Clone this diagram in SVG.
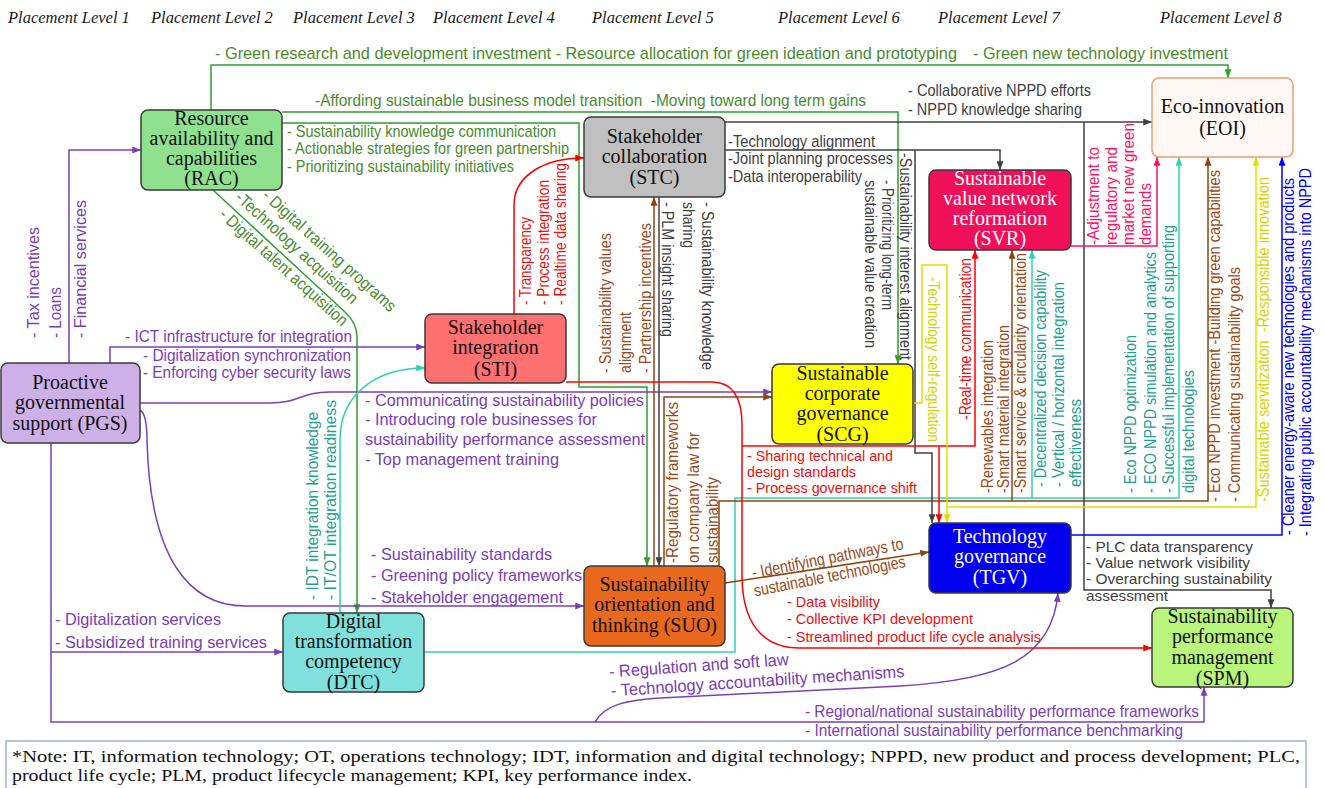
<svg xmlns="http://www.w3.org/2000/svg" width="1325" height="788" viewBox="0 0 1325 788">
<style>
.hd{font-family:"Liberation Serif",serif;font-style:italic;font-size:16.5px;fill:#1a1a1a}
.nt{font-family:"Liberation Serif",serif;font-size:20px;text-anchor:middle;fill:#111}
.nw{fill:#fff}
.nd{stroke:#3a3a3a;stroke-width:1.5}
.lb{font-family:"Liberation Sans",Arial,sans-serif;font-size:17px}
.sm{font-size:15px}
.v{dominant-baseline:central}
.tg{fill:#4A8B2C}.tp{fill:#7A3DB8}.tt{fill:#1FA08F}.tb{fill:#994A1A}.tr{fill:#E81010}.tk{fill:#404040}.ty{fill:#D4D400}.tl{fill:#0000FF}.tn{fill:#FF1060}
.note{font-family:"Liberation Serif",serif;font-size:17px;fill:#111}
</style>
<defs>
<marker id="aG" viewBox="0 0 10 8" refX="10" refY="4" markerWidth="9" markerHeight="7" markerUnits="userSpaceOnUse" orient="auto"><path d="M0,0L10,4L0,8z" fill="#2EA02E"/></marker>
<marker id="aP" viewBox="0 0 10 8" refX="10" refY="4" markerWidth="9" markerHeight="7" markerUnits="userSpaceOnUse" orient="auto"><path d="M0,0L10,4L0,8z" fill="#7B3FB8"/></marker>
<marker id="aT" viewBox="0 0 10 8" refX="10" refY="4" markerWidth="9" markerHeight="7" markerUnits="userSpaceOnUse" orient="auto"><path d="M0,0L10,4L0,8z" fill="#2DD4B0"/></marker>
<marker id="aB" viewBox="0 0 10 8" refX="10" refY="4" markerWidth="9" markerHeight="7" markerUnits="userSpaceOnUse" orient="auto"><path d="M0,0L10,4L0,8z" fill="#8B4513"/></marker>
<marker id="aK" viewBox="0 0 10 8" refX="10" refY="4" markerWidth="9" markerHeight="7" markerUnits="userSpaceOnUse" orient="auto"><path d="M0,0L10,4L0,8z" fill="#404040"/></marker>
<marker id="aR" viewBox="0 0 10 8" refX="10" refY="4" markerWidth="9" markerHeight="7" markerUnits="userSpaceOnUse" orient="auto"><path d="M0,0L10,4L0,8z" fill="#FF0000"/></marker>
<marker id="aY" viewBox="0 0 10 8" refX="10" refY="4" markerWidth="9" markerHeight="7" markerUnits="userSpaceOnUse" orient="auto"><path d="M0,0L10,4L0,8z" fill="#E0E000"/></marker>
<marker id="aL" viewBox="0 0 10 8" refX="10" refY="4" markerWidth="9" markerHeight="7" markerUnits="userSpaceOnUse" orient="auto"><path d="M0,0L10,4L0,8z" fill="#0000FF"/></marker>
<marker id="aN" viewBox="0 0 10 8" refX="10" refY="4" markerWidth="9" markerHeight="7" markerUnits="userSpaceOnUse" orient="auto"><path d="M0,0L10,4L0,8z" fill="#FF1060"/></marker>
</defs>
<rect width="1325" height="788" fill="#fff"/>
<g id="headers" class="hd">
<text x="8" y="23">Placement Level 1</text>
<text x="151" y="23">Placement Level 2</text>
<text x="293" y="23">Placement Level 3</text>
<text x="433" y="23">Placement Level 4</text>
<text x="592" y="23">Placement Level 5</text>
<text x="778" y="23">Placement Level 6</text>
<text x="938" y="23">Placement Level 7</text>
<text x="1160" y="23">Placement Level 8</text>
</g>
<g id="connectors" fill="none" stroke-width="1.5">
<g stroke="#2EA02E" marker-end="url(#aG)">
<path d="M211,110V65H1228V78"/>
<path d="M282,112H898V364"/>
<path d="M282,123H579V387H647V566"/>
<path d="M213,190L345,312Q357,323 357,337V613"/>
</g>
<g stroke="#7B3FB8" marker-end="url(#aP)">
<path d="M69,363V150H141"/>
<path d="M110,363V347H425"/>
<path d="M140,403H270C300,403 300,392 330,392H772"/>
<path d="M140,410Q147,414 147,440C150,560 190,606 245,606H584"/>
<path d="M51,443V722H1204V687"/>
<path d="M51,652H283"/>
<path d="M595,722C605,705 625,700 660,698L900,686C1000,680 1052,660 1058,593"/>
</g>
<g stroke="#2DD4B0" marker-end="url(#aT)">
<path d="M340,613V440C340,395 375,368 425,368"/>
<path d="M424,652H735V498H1179V157"/>
<path d="M1032,498V250"/>
</g>
<g stroke="#8B4513" marker-end="url(#aB)">
<path d="M654,566V197"/>
<path d="M664,566V397H772"/>
<path d="M719,566V501H1208V157"/>
<path d="M1012,501V250"/>
<path d="M725,583L929,552"/>
</g>
<g stroke="#404040" marker-end="url(#aK)">
<path d="M725,122H1152"/>
<path d="M725,150H1000V170"/>
<path d="M915,150V453H932V523"/>
<path d="M1084,122V590H1271V608"/>
<path d="M659,197V566"/>
</g>
<g stroke="#FF0000" marker-end="url(#aR)">
<path d="M514,314V205C514,175 545,158 584,158"/>
<path d="M566,382H712C735,382 742,400 742,425V575C742,620 760,648 800,648H1152"/>
<path d="M742,446H975V250"/>
<path d="M939,446V523"/>
</g>
<path d="M1071,246H1157V157" stroke="#FF1060" marker-end="url(#aN)"/>
<g stroke="#E0E000" marker-end="url(#aY)">
<path d="M913,403H922V265H947V523"/>
<path d="M947,507H1256V157"/>
</g>
<path d="M1071,535H1282V157" stroke="#0000FF" marker-end="url(#aL)"/>
</g>
<g id="RAC"><rect class="nd" x="141" y="110" width="141" height="80" rx="7" fill="#8FE08F"/><text class="nt"><tspan x="211.5" y="125">Resource</tspan><tspan x="211.5" y="145">availability and</tspan><tspan x="211.5" y="165">capabilities</tspan><tspan x="211.5" y="185">(RAC)</tspan></text></g>
<g id="STC"><rect class="nd" x="584" y="117" width="141" height="80" rx="7" fill="#C0C0C0"/><text class="nt"><tspan x="654.5" y="143">Stakeholder</tspan><tspan x="654.5" y="163">collaboration</tspan><tspan x="654.5" y="184">(STC)</tspan></text></g>
<g id="EOI"><rect x="1152" y="78" width="141" height="79" rx="7" fill="#FFF8F4" stroke="#E8A070" stroke-width="1.5"/><text class="nt"><tspan x="1222.5" y="113">Eco-innovation</tspan><tspan x="1222.5" y="135">(EOI)</tspan></text></g>
<g id="SVR"><rect class="nd" x="929" y="170" width="142" height="80" rx="7" fill="#F0105A"/><text class="nt nw"><tspan x="1000" y="185">Sustainable</tspan><tspan x="1000" y="205">value network</tspan><tspan x="1000" y="225">reformation</tspan><tspan x="1000" y="245">(SVR)</tspan></text></g>
<g id="STI"><rect class="nd" x="425" y="314" width="141" height="69" rx="7" fill="#FF7070"/><text class="nt"><tspan x="495.5" y="334">Stakeholder</tspan><tspan x="495.5" y="354">integration</tspan><tspan x="495.5" y="376">(STI)</tspan></text></g>
<g id="PGS"><rect class="nd" x="1" y="363" width="139" height="80" rx="7" fill="#CDB0E8"/><text class="nt"><tspan x="70" y="389">Proactive</tspan><tspan x="70" y="409">governmental</tspan><tspan x="70" y="430">support (PGS)</tspan></text></g>
<g id="SCG"><rect class="nd" x="772" y="364" width="141" height="80" rx="7" fill="#FFFF00"/><text class="nt"><tspan x="842.5" y="380">Sustainable</tspan><tspan x="842.5" y="400">corporate</tspan><tspan x="842.5" y="420">governance</tspan><tspan x="842.5" y="441">(SCG)</tspan></text></g>
<g id="SUO"><rect class="nd" x="584" y="566" width="141" height="80" rx="7" fill="#E8691E"/><text class="nt"><tspan x="654.5" y="591">Sustainability</tspan><tspan x="654.5" y="611">orientation and</tspan><tspan x="654.5" y="632">thinking (SUO)</tspan></text></g>
<g id="DTC"><rect class="nd" x="283" y="613" width="141" height="79" rx="7" fill="#80E0DC"/><text class="nt"><tspan x="353.5" y="628">Digital</tspan><tspan x="353.5" y="648">transformation</tspan><tspan x="353.5" y="668">competency</tspan><tspan x="353.5" y="689">(DTC)</tspan></text></g>
<g id="TGV"><rect class="nd" x="929" y="523" width="142" height="70" rx="7" fill="#0000EE"/><text class="nt nw"><tspan x="1000" y="543">Technology</tspan><tspan x="1000" y="563">governance</tspan><tspan x="1000" y="584">(TGV)</tspan></text></g>
<g id="SPM"><rect class="nd" x="1152" y="608" width="141" height="79" rx="7" fill="#B8F57A"/><text class="nt"><tspan x="1222.5" y="623">Sustainability</tspan><tspan x="1222.5" y="643">performance</tspan><tspan x="1222.5" y="664">management</tspan><tspan x="1222.5" y="685">(SPM)</tspan></text></g>
<g id="labels" class="lb">
<g class="tg">
<text x="215" y="59" textLength="742" lengthAdjust="spacingAndGlyphs">- Green research and development investment - Resource allocation for green ideation and prototyping</text>
<text x="973" y="59" textLength="255" lengthAdjust="spacingAndGlyphs">- Green new technology investment</text>
<text x="315" y="106" textLength="551" lengthAdjust="spacingAndGlyphs">-Affording sustainable business model transition&#160; -Moving toward long term gains</text>
<text x="287" y="137" textLength="269" lengthAdjust="spacingAndGlyphs">- Sustainability knowledge communication</text>
<text x="287" y="154" textLength="282" lengthAdjust="spacingAndGlyphs">- Actionable strategies for green partnership</text>
<text x="287" y="172" textLength="227" lengthAdjust="spacingAndGlyphs">- Prioritizing sustainability initiatives</text>
<text class="v" transform="translate(265,193) rotate(42)" textLength="173" lengthAdjust="spacingAndGlyphs">- Digital training programs</text>
<text class="v" transform="translate(238,195) rotate(42)" textLength="158" lengthAdjust="spacingAndGlyphs">-Technology acquisition</text>
<text class="v" transform="translate(222,212) rotate(42)" textLength="166" lengthAdjust="spacingAndGlyphs">- Digital talent acquisition</text>
</g>
<g class="tk">
<text x="728" y="147" textLength="147" lengthAdjust="spacingAndGlyphs">-Technology alignment</text>
<text x="728" y="164" textLength="165" lengthAdjust="spacingAndGlyphs">-Joint planning processes</text>
<text x="728" y="182" textLength="134" lengthAdjust="spacingAndGlyphs">-Data interoperability</text>
<text x="908" y="96" textLength="183" lengthAdjust="spacingAndGlyphs">- Collaborative NPPD efforts</text>
<text x="908" y="115" textLength="174" lengthAdjust="spacingAndGlyphs">- NPPD knowledge sharing</text>
<text class="sm" x="1086" y="552" textLength="167" lengthAdjust="spacingAndGlyphs">- PLC data transparency</text>
<text class="sm" x="1086" y="568" textLength="164" lengthAdjust="spacingAndGlyphs">- Value network visibility</text>
<text class="sm" x="1086" y="584" textLength="186" lengthAdjust="spacingAndGlyphs">- Overarching sustainability</text>
<text class="sm" x="1086" y="601" textLength="82" lengthAdjust="spacingAndGlyphs">assessment</text>
<text class="v" transform="translate(667,202) rotate(90)" textLength="135" lengthAdjust="spacingAndGlyphs">- PLM insight sharing</text>
<text class="v" transform="translate(707,202) rotate(90)" textLength="168" lengthAdjust="spacingAndGlyphs">- Sustainability knowledge</text>
<text class="v" transform="translate(688,202) rotate(90)" textLength="46" lengthAdjust="spacingAndGlyphs">sharing</text>
<text class="v" transform="translate(905,153) rotate(90)" textLength="207" lengthAdjust="spacingAndGlyphs">-Sustainability interest alignment</text>
<text class="v" transform="translate(887,180) rotate(90)" textLength="130" lengthAdjust="spacingAndGlyphs">- Prioritizing long-term</text>
<text class="v" transform="translate(870,180) rotate(90)" textLength="168" lengthAdjust="spacingAndGlyphs">sustainable value creation</text>
</g>
<g class="tp">
<text class="v" transform="translate(33,338) rotate(-90)" textLength="111" lengthAdjust="spacingAndGlyphs">- Tax incentives</text>
<text class="v" transform="translate(55,338) rotate(-90)" textLength="51" lengthAdjust="spacingAndGlyphs">- Loans</text>
<text class="v" transform="translate(80,338) rotate(-90)" textLength="138" lengthAdjust="spacingAndGlyphs">- Financial services</text>
<text x="125" y="342" textLength="227" lengthAdjust="spacingAndGlyphs">- ICT infrastructure for integration</text>
<text x="143" y="361" textLength="208" lengthAdjust="spacingAndGlyphs">- Digitalization synchronization</text>
<text x="143" y="378" textLength="208" lengthAdjust="spacingAndGlyphs">- Enforcing cyber security laws</text>
<text x="365" y="406" textLength="279" lengthAdjust="spacingAndGlyphs">- Communicating sustainability policies</text>
<text x="365" y="425" textLength="232" lengthAdjust="spacingAndGlyphs">- Introducing role businesses for</text>
<text x="365" y="445" textLength="280" lengthAdjust="spacingAndGlyphs">sustainability performance assessment</text>
<text x="365" y="465" textLength="194" lengthAdjust="spacingAndGlyphs">- Top management training</text>
<text x="371" y="560" textLength="181" lengthAdjust="spacingAndGlyphs">- Sustainability standards</text>
<text x="371" y="581" textLength="211" lengthAdjust="spacingAndGlyphs">- Greening policy frameworks</text>
<text x="371" y="603" textLength="192" lengthAdjust="spacingAndGlyphs">- Stakeholder engagement</text>
<text x="55" y="625" textLength="166" lengthAdjust="spacingAndGlyphs">- Digitalization services</text>
<text x="55" y="648" textLength="212" lengthAdjust="spacingAndGlyphs">- Subsidized training services</text>
<text x="805" y="717" textLength="394" lengthAdjust="spacingAndGlyphs">- Regional/national sustainability performance frameworks</text>
<text x="805" y="736" textLength="378" lengthAdjust="spacingAndGlyphs">- International sustainability performance benchmarking</text>
<text class="v" transform="translate(609,672) rotate(-4)" textLength="180" lengthAdjust="spacingAndGlyphs">- Regulation and soft law</text>
<text class="v" transform="translate(611,691) rotate(-3.8)" textLength="294" lengthAdjust="spacingAndGlyphs">- Technology accountability mechanisms</text>
</g>
<g class="tr">
<text class="v" transform="translate(525,305) rotate(-90)" textLength="88" lengthAdjust="spacingAndGlyphs">- Transparency</text>
<text class="v" transform="translate(543,305) rotate(-90)" textLength="125" lengthAdjust="spacingAndGlyphs">- Process integration</text>
<text class="v" transform="translate(560,305) rotate(-90)" textLength="142" lengthAdjust="spacingAndGlyphs">- Realtime data sharing</text>
<text class="v" transform="translate(965,420) rotate(-90)" textLength="162" lengthAdjust="spacingAndGlyphs">-Real-time communication</text>
<text class="sm" x="747" y="461" textLength="146" lengthAdjust="spacingAndGlyphs">- Sharing technical and</text>
<text class="sm" x="747" y="477" textLength="109" lengthAdjust="spacingAndGlyphs">design standards</text>
<text class="sm" x="747" y="493" textLength="170" lengthAdjust="spacingAndGlyphs">- Process governance shift</text>
<text class="sm" x="787" y="607" textLength="93" lengthAdjust="spacingAndGlyphs">- Data visibility</text>
<text class="sm" x="787" y="624" textLength="186" lengthAdjust="spacingAndGlyphs">- Collective KPI development</text>
<text class="sm" x="787" y="642" textLength="254" lengthAdjust="spacingAndGlyphs">- Streamlined product life cycle analysis</text>
</g>
<g class="tb">
<text class="v" transform="translate(605,373) rotate(-90)" textLength="140" lengthAdjust="spacingAndGlyphs">- Sustainability values</text>
<text class="v" transform="translate(625,373) rotate(-90)" textLength="61" lengthAdjust="spacingAndGlyphs">alignment</text>
<text class="v" transform="translate(645,373) rotate(-90)" textLength="150" lengthAdjust="spacingAndGlyphs">- Partnership incentives</text>
<text class="v" transform="translate(672,563) rotate(-90)" textLength="161" lengthAdjust="spacingAndGlyphs">-Regulatory frameworks</text>
<text class="v" transform="translate(693,563) rotate(-90)" textLength="131" lengthAdjust="spacingAndGlyphs">on company law for</text>
<text class="v" transform="translate(712,563) rotate(-90)" textLength="86" lengthAdjust="spacingAndGlyphs">sustainability</text>
<text class="v" transform="translate(987,493) rotate(-90)" textLength="153" lengthAdjust="spacingAndGlyphs">-Renewables integration</text>
<text class="v" transform="translate(1003,493) rotate(-90)" textLength="168" lengthAdjust="spacingAndGlyphs">-Smart material integration</text>
<text class="v" transform="translate(1020,493) rotate(-90)" textLength="240" lengthAdjust="spacingAndGlyphs">-Smart service &amp; circularity orientation</text>
<text class="v" transform="translate(1214,502) rotate(-90)" textLength="332" lengthAdjust="spacingAndGlyphs">- Eco NPPD investment -Building green capabilities</text>
<text class="v" transform="translate(1234,502) rotate(-90)" textLength="235" lengthAdjust="spacingAndGlyphs">- Communicating sustainability goals</text>
<text class="v" transform="translate(752,573) rotate(-11)" textLength="154" lengthAdjust="spacingAndGlyphs">- Identifying pathways to</text>
<text class="v" transform="translate(754,591) rotate(-11)" textLength="154" lengthAdjust="spacingAndGlyphs">sustainable technologies</text>
</g>
<g class="tt">
<text class="v" transform="translate(312,600) rotate(-90)" textLength="188" lengthAdjust="spacingAndGlyphs">- IDT integration knowledge</text>
<text class="v" transform="translate(330,600) rotate(-90)" textLength="200" lengthAdjust="spacingAndGlyphs">- IT/OT integration readiness</text>
<text class="v" transform="translate(1040,487) rotate(-90)" textLength="217" lengthAdjust="spacingAndGlyphs">- Decentralized decision capability</text>
<text class="v" transform="translate(1058,487) rotate(-90)" textLength="205" lengthAdjust="spacingAndGlyphs">- Vertical / horizontal integration</text>
<text class="v" transform="translate(1075,487) rotate(-90)" textLength="88" lengthAdjust="spacingAndGlyphs">effectiveness</text>
<text class="v" transform="translate(1130,493) rotate(-90)" textLength="158" lengthAdjust="spacingAndGlyphs">- Eco NPPD optimization</text>
<text class="v" transform="translate(1150,493) rotate(-90)" textLength="241" lengthAdjust="spacingAndGlyphs">- ECO NPPD simulation and analytics</text>
<text class="v" transform="translate(1168,493) rotate(-90)" textLength="268" lengthAdjust="spacingAndGlyphs">- Successful implementation of supporting</text>
<text class="v" transform="translate(1188,493) rotate(-90)" textLength="123" lengthAdjust="spacingAndGlyphs">digital technologies</text>
</g>
<g class="tn">
<text class="v" transform="translate(1093,245) rotate(-90)" textLength="98" lengthAdjust="spacingAndGlyphs">-Adjustment to</text>
<text class="v" transform="translate(1111,245) rotate(-90)" textLength="98" lengthAdjust="spacingAndGlyphs">regulatory and</text>
<text class="v" transform="translate(1128,245) rotate(-90)" textLength="122" lengthAdjust="spacingAndGlyphs">market new green</text>
<text class="v" transform="translate(1145,245) rotate(-90)" textLength="62" lengthAdjust="spacingAndGlyphs">demands</text>
</g>
<g class="ty">
<text class="v" transform="translate(1263,502) rotate(-90)" textLength="325" lengthAdjust="spacingAndGlyphs">-Sustainable servitization&#160; -Responsible innovation</text>
<text class="v" transform="translate(933,277) rotate(90)" textLength="165" lengthAdjust="spacingAndGlyphs">-Technology self-regulation</text>
</g>
<g class="tl">
<text class="v" transform="translate(1288,535) rotate(-90)" textLength="357" lengthAdjust="spacingAndGlyphs">- Cleaner energy-aware new technologies and products</text>
<text class="v" transform="translate(1305,536) rotate(-90)" textLength="368" lengthAdjust="spacingAndGlyphs">- Integrating public accountability mechanisms into NPPD</text>
</g>
</g>
<g id="note">
<rect x="6" y="741" width="1300" height="52" fill="#fff" stroke="#9DB3D3" stroke-width="1.5"/>
<text class="note" x="12" y="762" textLength="1288" lengthAdjust="spacingAndGlyphs">*Note: IT, information technology; OT, operations technology; IDT, information and digital technology; NPPD, new product and process development; PLC,</text>
<text class="note" x="12" y="781" textLength="680" lengthAdjust="spacingAndGlyphs">product life cycle; PLM, product lifecycle management; KPI, key performance index.</text>
</g>
</svg>
